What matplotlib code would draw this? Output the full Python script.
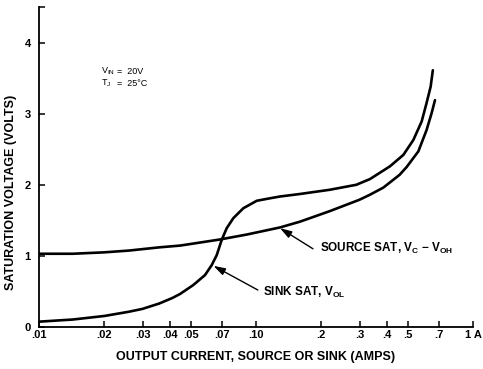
import matplotlib
matplotlib.use('Agg')
from matplotlib import pyplot as plt
from matplotlib.ticker import FixedLocator, FixedFormatter, NullFormatter

# curve values (amps, volts)
sink_I = [0.01, 0.0143, 0.02, 0.026, 0.03, 0.0358, 0.0413, 0.0447, 0.0514, 0.0582,
          0.0625, 0.0659, 0.0695, 0.0733, 0.0786, 0.0874, 0.1008, 0.116, 0.129,
          0.159, 0.219, 0.29, 0.335, 0.4145, 0.4775, 0.531, 0.58, 0.611, 0.638, 0.653]
sink_V = [0.075, 0.105, 0.155, 0.215, 0.255, 0.33, 0.41, 0.465, 0.59, 0.73,
          0.87, 1.01, 1.225, 1.39, 1.53, 1.67, 1.775, 1.81, 1.835,
          1.87, 1.93, 2.0, 2.08, 2.26, 2.42, 2.63, 2.89, 3.15, 3.38, 3.61]

source_I = [0.01, 0.0143, 0.02, 0.026, 0.0358, 0.0447, 0.068, 0.0906, 0.129, 0.159,
            0.177, 0.219, 0.30, 0.335, 0.386, 0.459, 0.4946, 0.56, 0.611, 0.645, 0.668]
source_V = [1.03, 1.03, 1.05, 1.075, 1.12, 1.145, 1.23, 1.30, 1.40, 1.48,
            1.53, 1.63, 1.79, 1.86, 1.96, 2.14, 2.25, 2.47, 2.77, 3.01, 3.19]

x_ticks = [0.01, 0.02, 0.03, 0.04, 0.05, 0.07, 0.1, 0.2, 0.3, 0.4, 0.5, 0.7, 1.0]
x_labels = ['.01', '.02', '.03', '.04', '.05', '.07', '.10', '.2', '.3', '.4', '.5', '.7', '1 A']
y_ticks = [0, 1, 2, 3, 4]
y_labels = ['0', '1', '2', '3', '4']

plt.rcParams['font.family'] = ['Liberation Sans', 'DejaVu Sans']
plt.rcParams['font.weight'] = 'bold'
plt.rcParams['mathtext.default'] = 'regular'

fig = plt.figure(figsize=(4.83, 3.69), dpi=100)
ax = fig.add_axes([39 / 483, 1 - 327 / 369, 434 / 483, 320 / 369])

ax.plot(sink_I, sink_V, color='black', lw=1.9, solid_capstyle='round', solid_joinstyle='round')
ax.plot(source_I, source_V, color='black', lw=1.9, solid_capstyle='round', solid_joinstyle='round')

ax.set_xscale('log')
ax.set_xlim(0.01, 1.0)
ax.set_ylim(0, 4.5)

ax.xaxis.set_major_locator(FixedLocator(x_ticks))
ax.xaxis.set_major_formatter(FixedFormatter(x_labels))
ax.xaxis.set_minor_locator(FixedLocator([]))
ax.xaxis.set_minor_formatter(NullFormatter())
ax.yaxis.set_major_locator(FixedLocator(y_ticks))
ax.yaxis.set_major_formatter(FixedFormatter(y_labels))
ax.yaxis.set_minor_locator(FixedLocator([4.5]))

ax.tick_params(which='both', direction='in', length=4, width=1.1, labelsize=8, pad=2)
ax.tick_params(axis='y', pad=6)

for s in ['top', 'right']:
    ax.spines[s].set_visible(False)
for s in ['left', 'bottom']:
    ax.spines[s].set_linewidth(1.3)

ax.set_ylabel('SATURATION VOLTAGE (VOLTS)', fontsize=9, fontweight='bold')
ax.yaxis.set_label_coords(-0.050, 0.42)
ax.set_xlabel('OUTPUT CURRENT, SOURCE OR SINK (AMPS)', fontsize=9, fontweight='bold', labelpad=8)

# conditions
ax.text(0.143, 0.800, r'V$_{IN}$', transform=ax.transAxes, fontsize=6.5,
        fontweight='normal', va='center', ha='left')
ax.text(0.180, 0.800, '=  20V', transform=ax.transAxes, fontsize=6.5,
        fontweight='normal', va='center', ha='left')
ax.text(0.143, 0.762, r'T$_{J}$', transform=ax.transAxes, fontsize=6.5,
        fontweight='normal', va='center', ha='left')
ax.text(0.180, 0.762, '=  25°C', transform=ax.transAxes, fontsize=6.5,
        fontweight='normal', va='center', ha='left')

arrow = dict(arrowstyle='-|>,head_length=0.7,head_width=0.22', color='black', lw=1.0,
             shrinkA=0, shrinkB=0)
ax.annotate('', xy=(0.129, 1.39), xytext=(0.183, 1.10), arrowprops=arrow)
ax.text(0.197, 1.11, r'SOURCE SAT, V$_{C}$ $-$ V$_{OH}$',
        fontsize=8.5, fontweight='bold', va='center', ha='left')

ax.annotate('', xy=(0.0637, 0.86), xytext=(0.102, 0.52), arrowprops=arrow)
ax.text(0.1077, 0.48, r'SINK SAT, V$_{OL}$',
        fontsize=8.5, fontweight='bold', va='center', ha='left')

fig.savefig('out.png', dpi=100)
